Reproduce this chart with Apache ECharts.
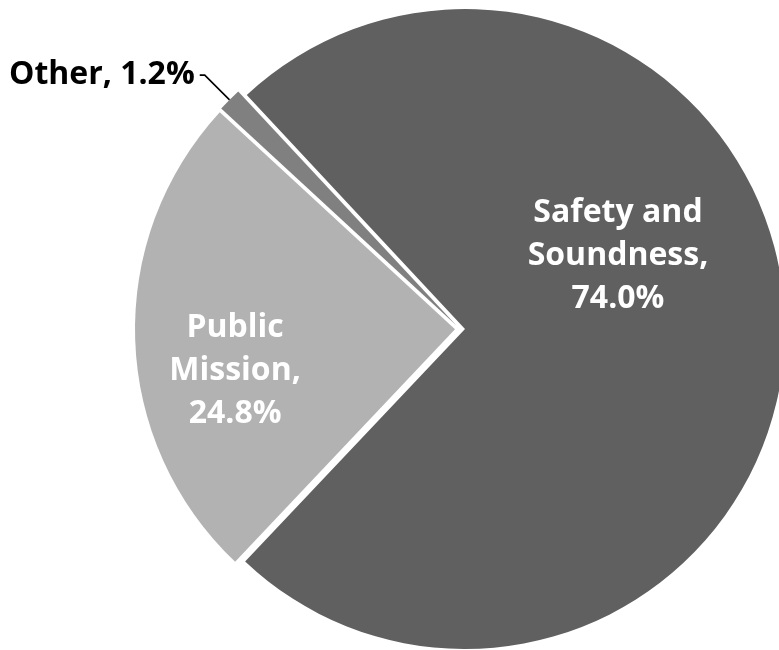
<!DOCTYPE html>
<html>
<head>
<meta charset="utf-8">
<script src="https://cdn.jsdelivr.net/npm/echarts@6/dist/echarts.min.js"></script>
<style>
html,body{margin:0;padding:0;background:#fff;}
#chart{width:779px;height:650px;}
</style>
</head>
<body>
<div id="chart"></div>
<script>
const categories = ['Safety and\nSoundness', 'Public\nMission', 'Other'];
const shares = [74.0, 24.8, 1.2];
const colors = ['#606060', '#b2b2b2', '#808080'];
const labelShift = [[-10, -74], [-57, 36], [0, 0]];

const chart = echarts.init(document.getElementById('chart'), null, {renderer: 'canvas'});
const data = categories.map((c, i) => ({
  name: c,
  value: shares[i],
  selected: true,
  itemStyle: {color: colors[i]},
  label: i < 2 ? {
    position: 'inside',
    color: '#ffffff',
    formatter: p => p.name + ',\n' + p.value.toFixed(1) + '%'
  } : {
    position: 'outside',
    color: '#000000',
    formatter: p => p.name + ', ' + p.value.toFixed(1) + '%'
  },
  labelLine: i < 2 ? {show: false} : {show: true, length: 35, length2: 5, lineStyle: {color: '#000', width: 1.6}}
}));

chart.setOption({
  animation: false,
  backgroundColor: '#ffffff',
  series: [{
    type: 'pie',
    center: [460, 329],
    radius: [0, 320],
    startAngle: 133,
    clockwise: true,
    selectedMode: 'multiple',
    selectedOffset: 5,
    avoidLabelOverlap: false,
    emphasis: {disabled: true},
    itemStyle: {borderWidth: 0},
    label: {
      fontFamily: 'Open Sans',
      fontWeight: 'bold',
      fontSize: 32,
      lineHeight: 43,
      align: 'center'
    },
    labelLayout: function (params) {
      const s = labelShift[params.dataIndex];
      return {dx: s[0], dy: s[1]};
    },
    data: data
  }]
});
</script>
</body>
</html>
